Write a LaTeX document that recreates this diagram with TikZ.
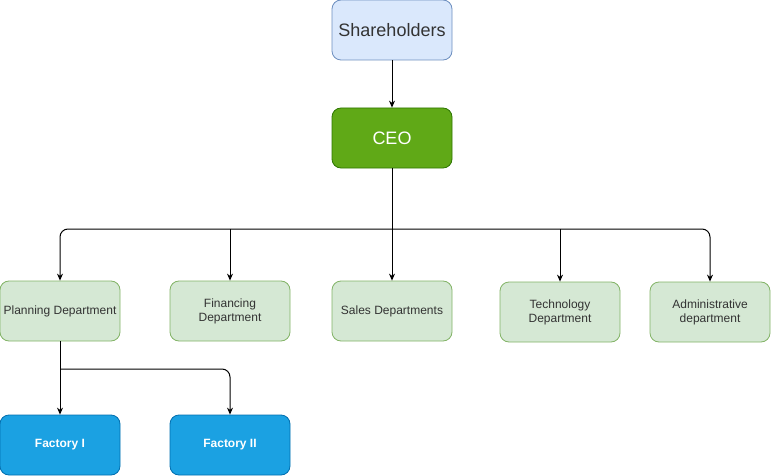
\documentclass[tikz,border=0pt]{standalone}
\usepackage{fontspec}
\setmainfont{Liberation Sans}
\usetikzlibrary{arrows.meta,calc}
\definecolor{blueF}{HTML}{DAE8FC}
\definecolor{blueS}{HTML}{6C8EBF}
\definecolor{ceoF}{HTML}{60A917}
\definecolor{ceoS}{HTML}{2D7600}
\definecolor{grnF}{HTML}{D5E8D4}
\definecolor{grnS}{HTML}{82B366}
\definecolor{facF}{HTML}{1BA1E2}
\definecolor{facS}{HTML}{006EAF}
\definecolor{txt}{HTML}{333333}
\tikzset{
  x=1pt,y=-1pt,
  box/.style={draw,rounded corners=9pt,minimum width=120pt,minimum height=60pt,inner sep=0pt,align=center,line width=0.8pt},
  topbox/.style={box,fill=blueF,draw=blueS,text=txt,font=\fontsize{18}{21}\selectfont},
  ceobox/.style={box,fill=ceoF,draw=ceoS,text=white,font=\fontsize{18}{21}\selectfont},
  dept/.style={box,fill=grnF,draw=grnS,text=txt,font=\fontsize{12}{14}\selectfont},
  fac/.style={box,fill=facF,draw=facS,text=white,font=\bfseries\fontsize{12}{14}\selectfont},
  conn/.style={draw,line width=1pt,-{Stealth[length=7pt,width=6pt]}},
}
\begin{document}
\begin{tikzpicture}
\useasboundingbox (0,0) rectangle (771,476);
\node[topbox] (sh) at (392,30) {Shareholders};
\node[ceobox] (ceo) at (392,138) {CEO};
\node[dept] (plan) at (60,311) {Planning Department};
\node[dept] (fin) at (230,311) {Financing\\Department};
\node[dept] (sales) at (392,311) {Sales Departments};
\node[dept] (tech) at (560,312) {Technology\\Department};
\node[dept] (adm) at (710,312) {Administrative\\department};
\node[fac] (f1) at (60,445) {Factory I};
\node[fac] (f2) at (230,445) {Factory II};
\coordinate (bus) at (392,229);
\coordinate (bus2) at (60,369);
\draw[conn] (sh) -- (ceo);
\draw[conn] (ceo.south) -- (sales.north);
\draw[conn,rounded corners=8pt] (bus) -| (plan.north);
\draw[conn,rounded corners=8pt] (bus) -| (adm.north);
\draw[conn] (fin.north |- bus) -- (fin.north);
\draw[conn] (tech.north |- bus) -- (tech.north);
\draw[conn] (plan.south) -- (f1.north);
\draw[conn,rounded corners=8pt] (bus2) -| (f2.north);
\end{tikzpicture}
\end{document}
